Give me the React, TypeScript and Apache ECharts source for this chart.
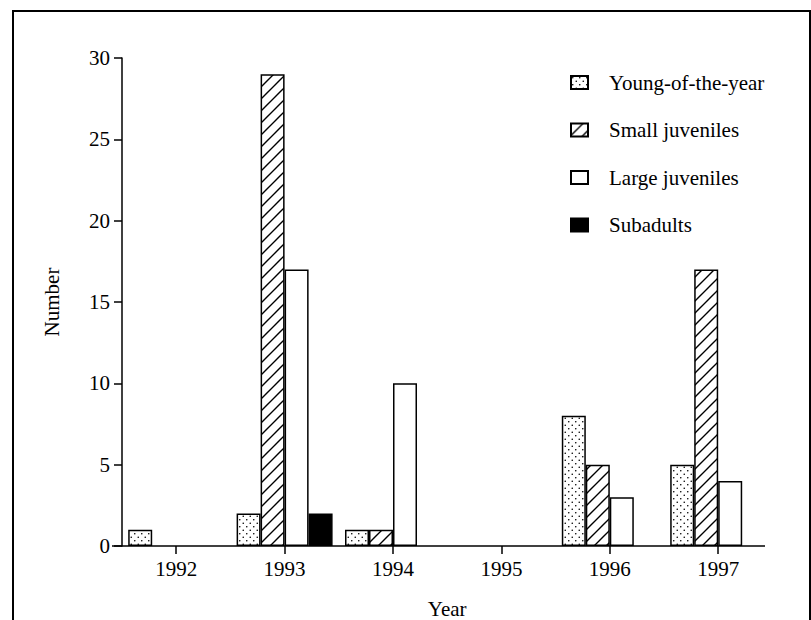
import React, { useEffect, useRef } from "react";
import * as echarts from "echarts";

const years = ["1992", "1993", "1994", "1995", "1996", "1997"];
const youngOfTheYear = [1, 2, 1, 0, 8, 5];
const smallJuveniles = [0, 29, 1, 0, 5, 17];
const largeJuveniles = [0, 17, 10, 0, 3, 4];
const subadults = [0, 2, 0, 0, 0, 0];
const seriesNames = ["Young-of-the-year", "Small juveniles", "Large juveniles", "Subadults"];

const FONT = "Liberation Serif";

function dotPattern(): HTMLCanvasElement {
  const c = document.createElement("canvas");
  c.width = 7;
  c.height = 7;
  const ctx = c.getContext("2d")!;
  ctx.fillStyle = "#fff";
  ctx.fillRect(0, 0, 7, 7);
  ctx.fillStyle = "#000";
  ctx.beginPath();
  ctx.arc(1.75, 1.75, 0.8, 0, Math.PI * 2);
  ctx.fill();
  ctx.beginPath();
  ctx.arc(5.25, 5.25, 0.8, 0, Math.PI * 2);
  ctx.fill();
  return c;
}

function hatchPattern(): HTMLCanvasElement {
  const s = 12;
  const c = document.createElement("canvas");
  c.width = s;
  c.height = s;
  const ctx = c.getContext("2d")!;
  ctx.fillStyle = "#fff";
  ctx.fillRect(0, 0, s, s);
  ctx.strokeStyle = "#000";
  ctx.lineWidth = 1.4;
  ctx.beginPath();
  ctx.moveTo(-1, s + 1);
  ctx.lineTo(s + 1, -1);
  ctx.moveTo(-1, 1);
  ctx.lineTo(1, -1);
  ctx.moveTo(s - 1, s + 1);
  ctx.lineTo(s + 1, s - 1);
  ctx.stroke();
  return c;
}

export default function App() {
  const ref = useRef<HTMLDivElement>(null);

  useEffect(() => {
    document.body.style.margin = "0";
    const chart = echarts.init(ref.current!, null, { renderer: "svg" });
    const fills: any[] = [
      { image: dotPattern(), repeat: "repeat" },
      { image: hatchPattern(), repeat: "repeat" },
      "#ffffff",
      "#000000",
    ];
    const values = [youngOfTheYear, smallJuveniles, largeJuveniles, subadults];

    chart.setOption({
      animation: false,
      backgroundColor: "#ffffff",
      textStyle: { fontFamily: FONT, color: "#000" },
      grid: { left: 122, top: 58, width: 650.4, height: 488, containLabel: false, outerBoundsMode: "none" },
      legend: {
        orient: "vertical",
        left: 570,
        top: 72,
        padding: 0,
        itemWidth: 17,
        itemHeight: 13,
        itemGap: 26.5,
        icon: "rect",
        textStyle: { fontFamily: FONT, fontSize: 21, color: "#000", lineHeight: 20, padding: [0, 0, 0, 16] },
        data: seriesNames,
      },
      xAxis: {
        type: "category",
        data: years,
        axisLine: { show: false },
        axisTick: { show: true, alignWithLabel: true, length: 8, lineStyle: { color: "#000", width: 1.5 } },
        axisLabel: { fontFamily: FONT, fontSize: 21, color: "#000", margin: 12 },
        name: "Year",
        nameLocation: "middle",
        nameGap: 53,
        nameTextStyle: { fontFamily: FONT, fontSize: 21, color: "#000", lineHeight: 20 },
      },
      yAxis: {
        type: "value",
        min: 0,
        max: 30,
        interval: 5,
        axisLine: { show: true, lineStyle: { color: "#000", width: 1.5 } },
        axisTick: { show: true, length: 8, lineStyle: { color: "#000", width: 1.5 } },
        axisLabel: { fontFamily: FONT, fontSize: 21, color: "#000", margin: 12 },
        splitLine: { show: false },
        name: "Number",
        nameLocation: "middle",
        nameGap: 60,
        nameTextStyle: { fontFamily: FONT, fontSize: 21, color: "#000" },
      },
      graphic: [
        {
          type: "rect",
          shape: { x: 13, y: 11, width: 797, height: 640 },
          style: { fill: "none", stroke: "#000", lineWidth: 2 },
          silent: true,
        },
        {
          type: "line",
          shape: { x1: 112, y1: 546, x2: 765, y2: 546 },
          style: { stroke: "#000", lineWidth: 1.5 },
          silent: true,
        },
      ],
      series: seriesNames.map((name, i) => ({
        name,
        type: "bar",
        data: values[i].map((v) => (v === 0 ? null : v)),
        barWidth: 24,
        barGap: "0%",
        itemStyle: { color: fills[i], borderColor: "#000", borderWidth: 1.5 },
      })),
    });
    return () => chart.dispose();
  }, []);

  return (
    <div
      ref={ref}
      style={{ position: "fixed", left: 0, top: 0, width: 811, height: 620, background: "#fff" }}
    />
  );
}
